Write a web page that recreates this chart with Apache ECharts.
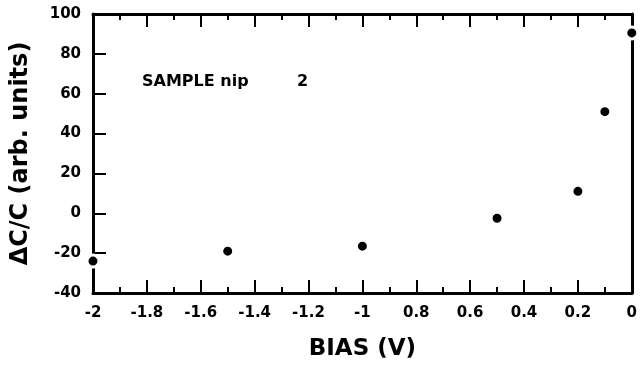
<!DOCTYPE html>
<html style="height: 100%">
   <head>
       <meta charset="utf-8">
   </head>
   <body style="width:640px;height:366px; margin: 0; background:#fff">
        <div id="container" style="width:640px;height:366px;"></div>
       <script type="text/javascript" src="https://cdn.jsdelivr.net/npm/echarts@6/dist/echarts.min.js"></script>

<script type="text/javascript">
	// bias voltage (V) and measured dC/C (arb. units)
	var biasV = [-2, -1.5, -1, -0.5, -0.2, -0.1, 0];
	var deltaC = [-24, -19, -16.5, -2.5, 11, 51, 90.5];
	// tick labels as printed on the original (minus signs missing after -1)
	var xTickLabels = ['-2', '-1.8', '-1.6', '-1.4', '-1.2', '-1', '0.8', '0.6', '0.4', '0.2', '0'];
	var sampleText = 'SAMPLE nip';
	var sampleNo = '2';

	var font = 'DejaVu Sans';
	var dom = document.getElementById("container");
	var myChart = echarts.init(dom);

	var points = [];
	for (var i = 0; i < biasV.length; i++) {
		points.push([biasV[i], deltaC[i]]);
	}

	var xLabel = function (v) {
		var idx = Math.round((v + 2) / 0.2);
		return xTickLabels[idx] !== undefined ? xTickLabels[idx] : '';
	};

	var lineStyle = { color: '#000', width: 3 };

	var option = {
	    animation: false,
	    backgroundColor: '#fff',
	    grid: { left: 93, right: 7, top: 14, bottom: 70 },
	    xAxis: [{
	    	type: 'value',
	    	position: 'bottom',
	    	min: -2, max: 0, interval: 0.2,
	    	axisLine: { show: true, onZero: false, lineStyle: lineStyle },
	    	axisTick: { inside: true, length: 13, lineStyle: { color: '#000', width: 2 } },
	    	minorTick: { show: true, splitNumber: 2, length: 6, lineStyle: { color: '#000', width: 2 } },
	    	splitLine: { show: false },
	    	axisLabel: {
	    		formatter: xLabel, margin: 13, color: '#000',
	    		fontFamily: font, fontWeight: 'bold', fontSize: 15
	    	},
	    	name: 'BIAS (V)',
	    	nameLocation: 'middle',
	    	nameGap: 45,
	    	nameTextStyle: { color: '#000', fontFamily: font, fontWeight: 'bold', fontSize: 23 }
	    }, {
	    	type: 'value',
	    	position: 'top',
	    	min: -2, max: 0, interval: 0.2,
	    	axisLine: { show: true, onZero: false, lineStyle: lineStyle },
	    	axisTick: { inside: true, length: 13, lineStyle: { color: '#000', width: 2 } },
	    	minorTick: { show: true, splitNumber: 2, length: 6, lineStyle: { color: '#000', width: 2 } },
	    	splitLine: { show: false },
	    	axisLabel: { show: false }
	    }],
	    yAxis: [{
	    	type: 'value',
	    	position: 'left',
	    	min: -40, max: 100, interval: 20,
	    	axisLine: { show: true, onZero: false, lineStyle: lineStyle },
	    	axisTick: { inside: true, length: 13, lineStyle: { color: '#000', width: 2 } },
	    	splitLine: { show: false },
	    	axisLabel: {
	    		margin: 12, color: '#000',
	    		fontFamily: font, fontWeight: 'bold', fontSize: 15
	    	},
	    	name: '\u0394C/C (arb. units)',
	    	nameLocation: 'middle',
	    	nameGap: 60,
	    	nameTextStyle: { color: '#000', fontFamily: font, fontWeight: 'bold', fontSize: 24 }
	    }, {
	    	type: 'value',
	    	position: 'right',
	    	min: -40, max: 100, interval: 20,
	    	axisLine: { show: true, onZero: false, lineStyle: lineStyle },
	    	axisTick: { show: false },
	    	splitLine: { show: false },
	    	axisLabel: { show: false }
	    }],
	    graphic: [{
	    	type: 'text', left: 142, top: 74,
	    	style: { text: sampleText, fill: '#000', font: 'bold 16px "DejaVu Sans"' }
	    }, {
	    	type: 'text', left: 297, top: 74,
	    	style: { text: sampleNo, fill: '#000', font: 'bold 16px "DejaVu Sans"' }
	    }],
	    series: [{
	    	type: 'scatter',
	    	data: points,
	    	symbol: 'circle',
	    	symbolSize: 12,
	    	clip: false,
	    	itemStyle: { color: '#000', opacity: 1, borderColor: '#fff', borderWidth: 3 }
	    }]
	};

    myChart.setOption(option, true);
</script>

   </body>
</html>
